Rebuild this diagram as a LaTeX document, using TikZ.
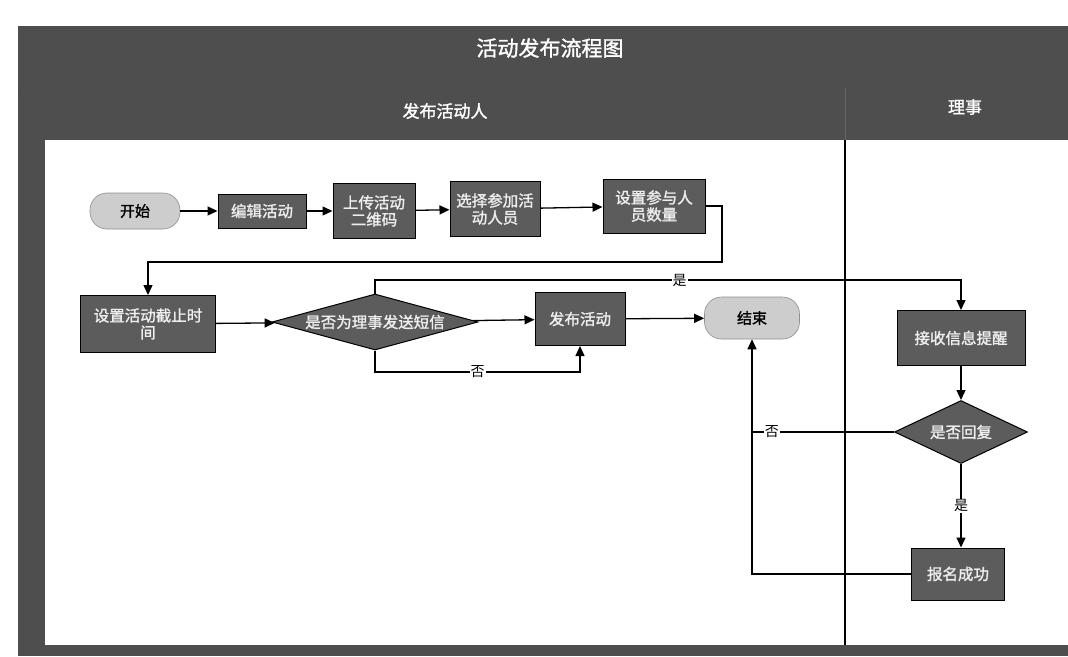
\documentclass[tikz,border=0pt]{standalone}
\usepackage{fontspec}
\setmainfont{Noto Sans CJK SC}
\newfontfamily\cjkbold[FakeBold=1.5]{Noto Sans CJK SC}
\usetikzlibrary{shapes.geometric,arrows.meta}
\definecolor{framegray}{HTML}{4E4E4E}
\definecolor{boxgray}{HTML}{5C5C5C}
\definecolor{pillgray}{HTML}{CDCDCD}
\definecolor{boxtext}{HTML}{EEEEEE}
\tikzset{
  proc/.style={rectangle,draw=black,line width=1pt,fill=boxgray,text=boxtext,align=center,inner sep=1pt,font=\cjkbold\fontsize{15.5}{17}\selectfont},
  term/.style={rectangle,rounded corners=17pt,draw=pillgray!70!black,line width=0.6pt,fill=pillgray,text=black,align=center,font=\cjkbold\fontsize{15}{17}\selectfont},
  dec/.style={diamond,draw=black,line width=1pt,fill=boxgray,text=boxtext,align=center,inner sep=0pt,font=\cjkbold\fontsize{15.5}{17}\selectfont},
  arr/.style={draw=black,line width=1.3pt,-{Triangle[length=10pt,width=9pt]}},
  ln/.style={draw=black,line width=1.3pt},
  lbl/.style={fill=white,inner sep=1pt,text=black,font=\fontsize{14}{16}\selectfont},
  hdr/.style={text=white,font=\cjkbold\fontsize{17}{19}\selectfont}
}
\begin{document}
\begin{tikzpicture}[x=1pt,y=-1pt]
\useasboundingbox (0,0) rectangle (1068,656);
\fill[white] (0,0) rectangle (1068,656);
% frame
\fill[framegray] (18,26) rectangle (1068,656);
\draw[black!70,line width=0.8pt] (18,88) -- (1068,88);
\draw[black!60,line width=0.5pt] (845,88) -- (845,140);
\fill[white] (45,140) rectangle (1068,645);
\draw[black,line width=1.2pt] (845,140) -- (845,645);
\node[text=white,font=\cjkbold\fontsize{21}{23}\selectfont] (title) at (550,48) {活动发布流程图};
\node[hdr] (lane1) at (445,111) {发布活动人};
\node[hdr] (lane2) at (965,107) {理事};
% nodes
\node[term,minimum width=90pt,minimum height=36pt] (start) at (135,211) {开始};
\node[proc,minimum width=88pt,minimum height=34pt] (n1) at (262,211) {编辑活动};
\node[proc,minimum width=82pt,minimum height=55pt] (n2) at (374,211) {上传活动\\二维码};
\node[proc,minimum width=90pt,minimum height=55pt] (n3) at (495,209) {选择参加活\\动人员};
\node[proc,minimum width=102pt,minimum height=54pt] (n4) at (654,206) {设置参与人\\员数量};
\node[proc,minimum width=135pt,minimum height=57pt] (n5) at (148,324) {设置活动截止时\\间};
\node[dec,aspect=3.7,minimum width=206pt,minimum height=56pt] (d1) at (375,322) {是否为理事发送短信};
\node[proc,minimum width=90pt,minimum height=53pt] (n6) at (580,319) {发布活动};
\node[term,minimum width=95pt,minimum height=42pt] (end) at (752,318) {结束};
\node[proc,minimum width=128pt,minimum height=55pt] (r1) at (961,338) {接收信息提醒};
\node[dec,aspect=2.1,minimum width=133pt,minimum height=63pt] (d2) at (961,432) {是否回复};
\node[proc,minimum width=93pt,minimum height=52pt] (r2) at (958,574) {报名成功};
% helper coordinates
\coordinate (k1) at (722,262);
\coordinate (k2) at (0,280);
\coordinate (k3) at (0,372);
% connectors
\draw[arr] (start) -- (n1);
\draw[arr] (n1) -- (n2);
\draw[arr] (n2) -- (n3);
\draw[arr] (n3) -- (n4);
\draw[arr] (n4.east) -| (k1) -| (n5.north);
\draw[arr] (n5) -- (d1);
\draw[arr] (d1) -- (n6);
\draw[arr] (n6) -- (end);
\draw[arr] (d1.north) -- (d1.north |- k2) -- node[lbl,pos=0.52]{是} (r1.north |- k2) -- (r1.north);
\draw[arr] (d1.south) -- (d1.south |- k3) -- node[lbl]{否} (n6.south |- k3) -- (n6.south);
\draw[arr] (r1) -- (d2);
\draw[arr] (d2.south) -- node[lbl]{是} (d2.south |- r2.north);
\draw[ln] (d2.west) -- node[lbl,pos=0.86]{否} (end.south |- d2.west);
\draw[arr] (r2.west) -| (end.south);
\end{tikzpicture}
\end{document}
